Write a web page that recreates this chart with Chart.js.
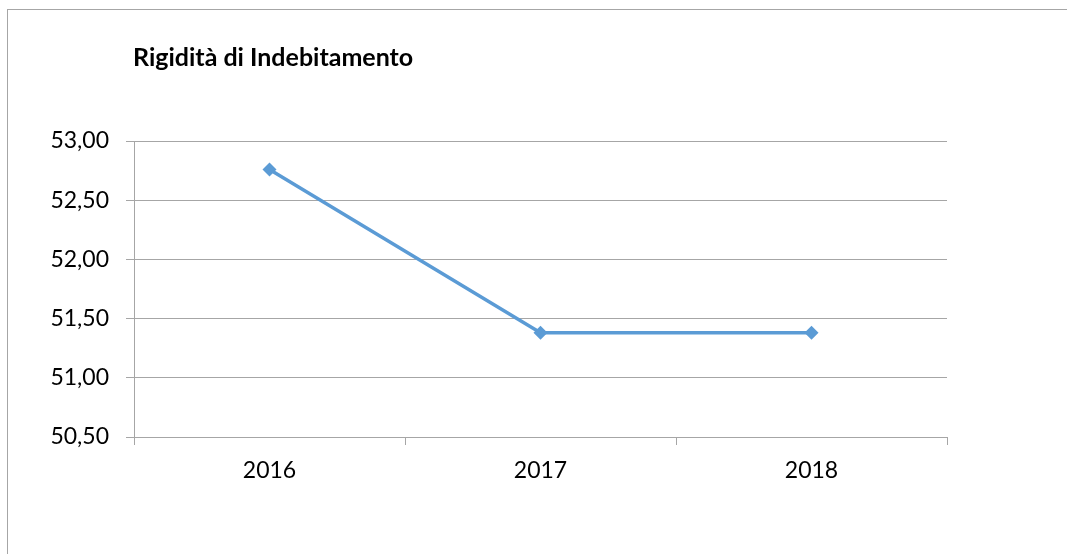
<!DOCTYPE html>
<html>
<head>
<meta charset="utf-8">
<script src="https://cdn.jsdelivr.net/npm/chart.js@4.4.1/dist/chart.umd.min.js"></script>
<style>
  html, body { margin: 0; padding: 0; background: #fff; }
  #wrap { position: relative; width: 1067px; height: 554px; overflow: hidden; }
  #frame { position: absolute; left: 7px; top: 9px; width: 1100px; height: 600px; border-left: 1px solid #a6a6a6; border-top: 1px solid #a6a6a6; box-sizing: border-box; pointer-events: none; }
  canvas { position: absolute; left: 0; top: 0; }
</style>
</head>
<body>
<div id="wrap">
  <canvas id="c" width="1067" height="554"></canvas>
  <div id="frame"></div>
</div>
<script>
const chartTitle = 'Rigidità di Indebitamento';
const categories = ['2016', '2017', '2018'];
const values = [52.76, 51.38, 51.38];
const yMin = 50.5, yMax = 53.0, yStep = 0.5;

const gridColor = '#a6a6a6';
const fontFamily = 'Lato, "Open Sans", sans-serif';

const titlePlugin = {
  id: 'leftTitle',
  afterDraw(chart) {
    const ctx = chart.ctx;
    ctx.save();
    ctx.font = 'bold 25px ' + fontFamily;
    ctx.fillStyle = '#000';
    ctx.textBaseline = 'alphabetic';
    ctx.textAlign = 'left';
    ctx.fillText(chartTitle, chart.chartArea.left - 1, 66);
    ctx.restore();
  }
};

new Chart(document.getElementById('c'), {
  type: 'line',
  data: {
    labels: categories,
    datasets: [{
      data: values,
      borderColor: '#5b9bd5',
      backgroundColor: '#5b9bd5',
      borderWidth: 3.5,
      pointStyle: 'rectRot',
      pointRadius: 7,
      pointHoverRadius: 7,
      pointBorderWidth: 0,
      tension: 0,
      fill: false
    }]
  },
  options: {
    responsive: false,
    animation: false,
    events: [],
    layout: { padding: { left: 0, right: 120, top: 141, bottom: 0 } },
    plugins: { legend: { display: false }, title: { display: false }, tooltip: { enabled: false } },
    scales: {
      x: {
        type: 'category',
        offset: true,
        grid: { offset: true, drawOnChartArea: false, drawTicks: true, tickLength: 8, color: gridColor, lineWidth: 1 },
        border: { display: true, color: gridColor, width: 1 },
        ticks: { color: '#000', font: { family: fontFamily, size: 23 }, padding: 12, maxRotation: 0 },
        afterFit(scale) { scale.height = 117; }
      },
      y: {
        min: yMin, max: yMax,
        grid: { color: gridColor, lineWidth: 1, tickLength: 8, drawTicks: true },
        border: { display: true, color: gridColor, width: 1 },
        ticks: {
          stepSize: yStep,
          color: '#000',
          font: { family: fontFamily, size: 23 },
          padding: 17,
          callback: v => Number(v).toFixed(2).replace('.', ',')
        },
        afterFit(scale) { scale.width = 134; }
      }
    }
  },
  plugins: [titlePlugin]
});
</script>
</body>
</html>
